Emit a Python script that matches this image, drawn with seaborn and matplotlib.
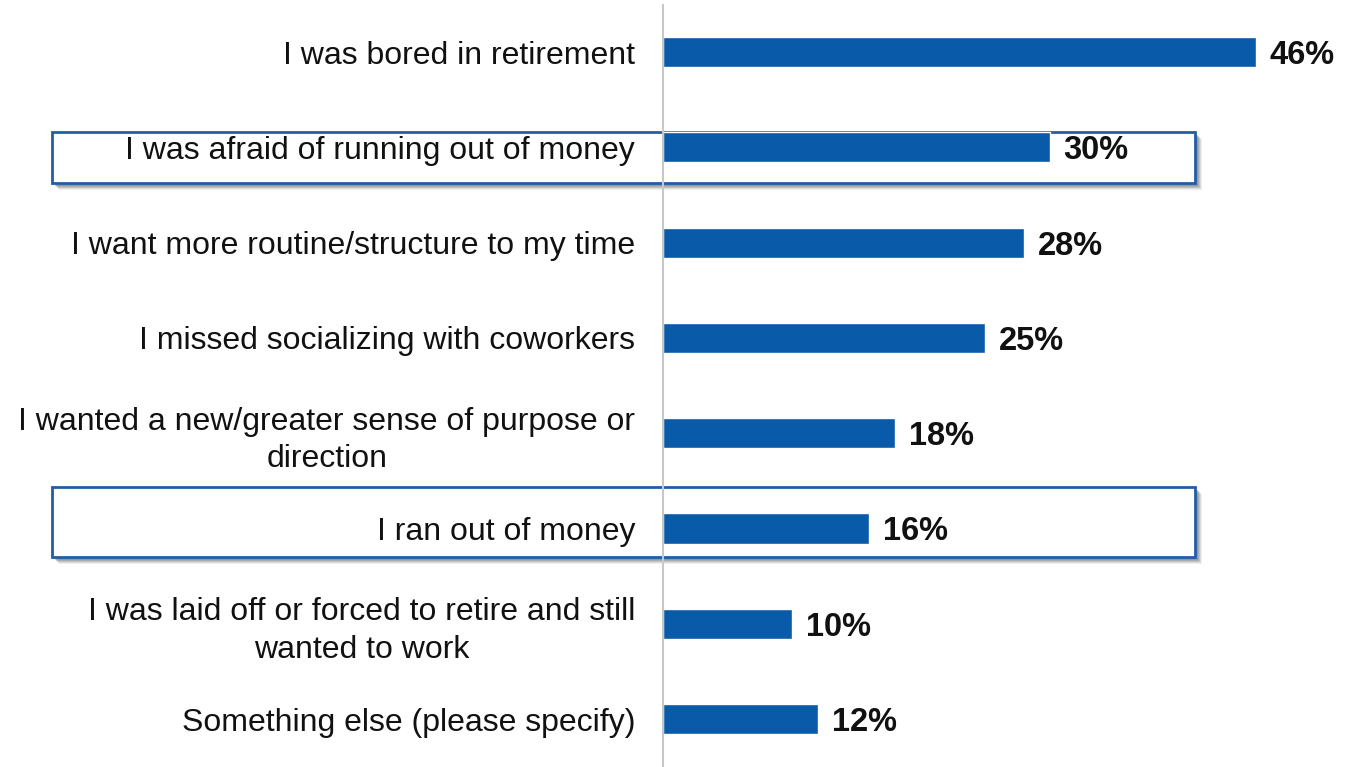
import numpy as np
import pandas as pd
import matplotlib
matplotlib.use("Agg")
import matplotlib.pyplot as plt
import seaborn as sns
from matplotlib.patches import Rectangle

reasons = [
    "I was bored in retirement",
    "I was afraid of running out of money",
    "I want more routine/structure to my time",
    "I missed socializing with coworkers",
    "I wanted a new/greater sense of purpose or\ndirection",
    "I ran out of money",
    "I was laid off or forced to retire and still\nwanted to work",
    "Something else (please specify)",
]
shares = [46, 30, 28, 25, 18, 16, 10, 12]
highlighted = ["I was afraid of running out of money", "I ran out of money"]

df = pd.DataFrame({"reason": reasons, "share": shares})

sns.set_theme(style="white")
plt.rcParams["font.family"] = ["Liberation Sans", "DejaVu Sans"]

W, H = 1358, 767
fig = plt.figure(figsize=(W / 100, H / 100), dpi=100)

# axes start at the gray baseline, bars measured in percent
x0 = 663
px_per_pct = (1257 - 664) / 46
row_gap = 95.3
first_row = 52
ax = fig.add_axes([x0 / W, 0, (W - x0) / W, 1])

sns.barplot(data=df, y="reason", x="share", orient="h", color="#0A5AAA",
            width=0.315, saturation=1, ax=ax)
ax.set_xlim(0, (W - x0) / px_per_pct)
ax.set_ylim((H - first_row) / row_gap, -first_row / row_gap)

labels = ax.bar_label(ax.containers[0], labels=[f"{v}%" for v in shares],
                      padding=10, fontsize=23.5, fontweight="bold", color="#111111")
for t in labels:
    t.set_verticalalignment("center_baseline")

ax.set_xlabel("")
ax.set_ylabel("")
ax.set_xticks([])
ax.tick_params(axis="y", length=0, pad=20, labelsize=23, labelcolor="#111111")
for lab in ax.get_yticklabels():
    lab.set_horizontalalignment("right")
    lab.set_multialignment("center")
    lab.set_linespacing(1.32)
for s in ["top", "right", "bottom"]:
    ax.spines[s].set_visible(False)
ax.spines["left"].set_color("#C8C8C8")
ax.spines["left"].set_linewidth(1.5)
ax.spines["left"].set_bounds(ax.get_ylim()[0], -47 / row_gap)

# outline boxes around the money-related reasons (pixel positions)
boxes = {"I was afraid of running out of money": (52, 132, 1195, 183),
         "I ran out of money": (52, 487, 1195, 557)}
for name in highlighted:
    l, t, r, b = boxes[name]
    # soft drop shadow, a few stacked layers
    for off, a in [(7, 0.12), (6, 0.18), (5, 0.25), (4, 0.35), (3, 0.4)]:
        fig.patches.append(Rectangle(((l + off) / W, 1 - (b + off) / H), (r - l) / W, (b - t) / H,
                                     transform=fig.transFigure, facecolor="#808080",
                                     edgecolor="none", alpha=a, zorder=0))
    fig.patches.append(Rectangle((l / W, 1 - b / H), (r - l) / W, (b - t) / H,
                                 transform=fig.transFigure, facecolor="white",
                                 edgecolor="#1F5FA8", linewidth=2, zorder=0.5))

ax.set_facecolor("none")
ax.set_zorder(2)

fig.savefig("out.png", dpi=100)
